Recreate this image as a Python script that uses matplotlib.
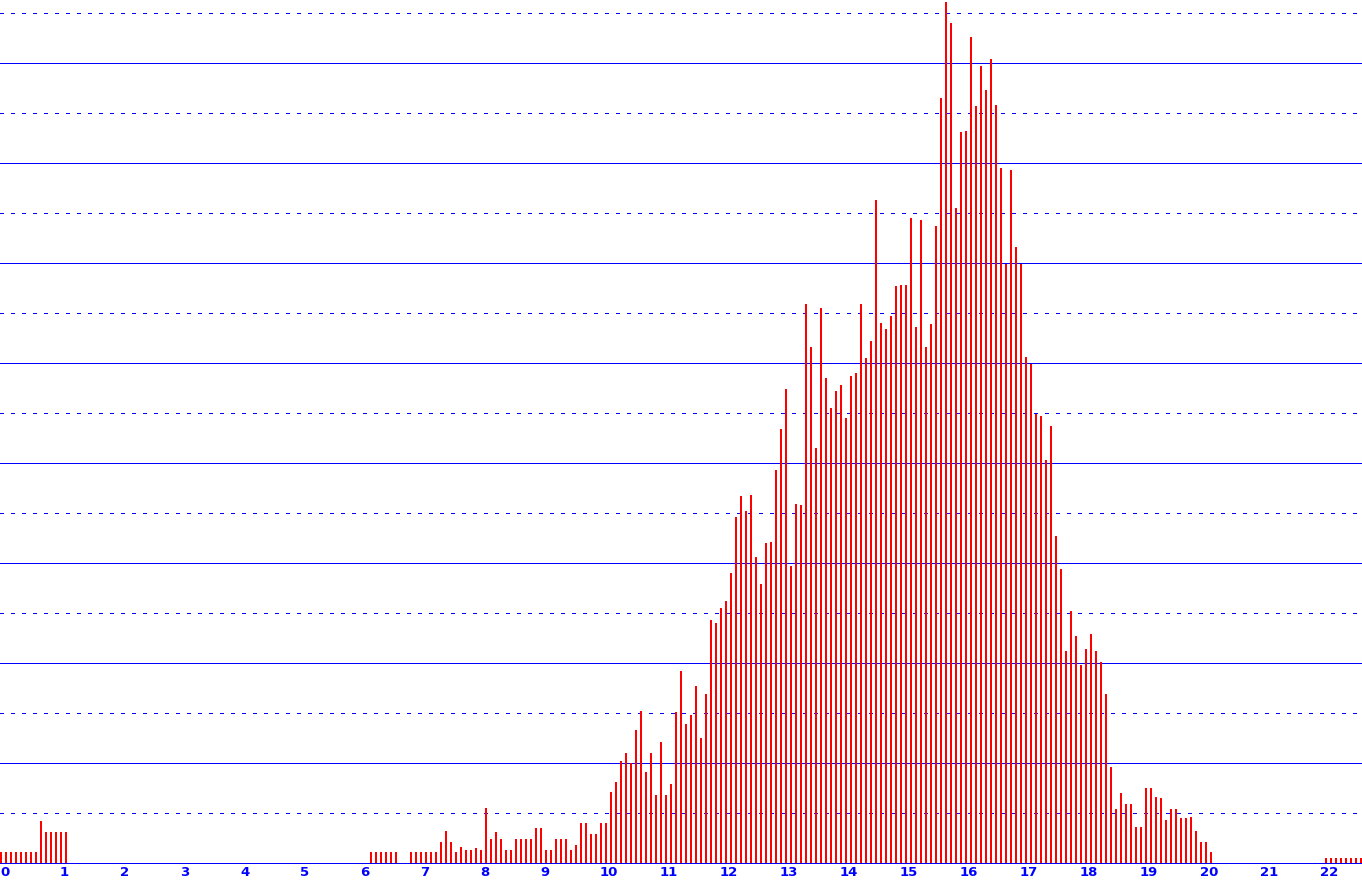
import matplotlib
matplotlib.use("Agg")
import matplotlib.pyplot as plt
import numpy as np

# bin width is 1/12 of a unit, bars start at 0
bin_width = 1 / 12

# bar heights, one per bin
counts = (
    [11] * 8 + [42] + [31] * 5
    + [0] * 60
    + [11] * 6 + [0] * 2 + [11] * 6
    + [21, 32, 21, 11, 16, 13, 13, 15, 13, 55, 24, 31, 24, 13, 13, 24, 24, 24, 24, 35,
       35, 13, 13, 24, 24, 24, 13, 18, 40, 40, 29, 29, 40, 40]
    + [71, 81, 102, 110, 100, 133, 152, 91, 110, 68, 121, 68, 79, 151, 192, 139, 148, 177,
       125, 169, 243, 240, 255, 262, 290, 346, 367, 352, 368, 306, 279, 320, 321, 393,
       434, 474, 297, 359, 358, 559, 516, 415, 555, 485, 455, 472, 478, 445, 487, 490,
       559, 505, 522, 663, 540, 534, 547, 577, 578, 578, 645, 536, 643, 516, 539, 637,
       765, 861, 840, 655, 731, 732, 826, 757, 797, 773, 804, 758, 695, 599, 693, 616,
       599, 506, 499, 449, 447, 403, 437, 327, 294, 212, 252, 227, 198, 214, 229, 212,
       201, 169, 96, 54, 70, 59, 59, 36, 36, 75, 75, 66, 65, 43, 54, 54, 45, 45, 46, 32,
       21, 21, 11]
    + [0] * 22
    + [5] * 8
)

tick_values = list(range(23))
solid_grid = [0, 100, 200, 300, 400, 500, 600, 700, 800]
dashed_grid = [50, 150, 250, 350, 450, 550, 650, 750, 850]

blue = '#0000ff'
red = '#ff0000'

W, H = 1362, 883
fig = plt.figure(figsize=(W / 100, H / 100), dpi=100)
ax = fig.add_axes([0, 20 / H, 1, 863 / H])

x = np.arange(len(counts)) * bin_width

px = 0.72  # one pixel in points at 100 dpi
# grid lines sit on the pixel row just under each level
for g in solid_grid:
    ln = ax.axhline(g - 0.5, color=blue, lw=px, zorder=1 if g else 4, clip_on=False,
                    antialiased=False)
    ln.set_snap(False)
for g in dashed_grid:
    ln = ax.axhline(g - 0.5, color=blue, lw=px, linestyle=(0, (3, 7)), zorder=1,
                    antialiased=False)
    ln.set_snap(False)

# bars are 2 px wide, 5 px apart
ax.bar(x, counts, width=2 / 60, align='edge', color=red, linewidth=0,
       antialiased=False, zorder=3)

ax.set_xlim(0, W / 60)
ax.set_ylim(0, 863)
for s in ax.spines.values():
    s.set_visible(False)
ax.set_yticks([])
ax.set_xticks(tick_values)
ax.set_xticklabels([str(t) for t in tick_values], ha='left', fontweight='bold')
ax.tick_params(axis='x', length=0, pad=2, labelcolor=blue, labelsize=9.5)

fig.savefig('out.png', dpi=100)
